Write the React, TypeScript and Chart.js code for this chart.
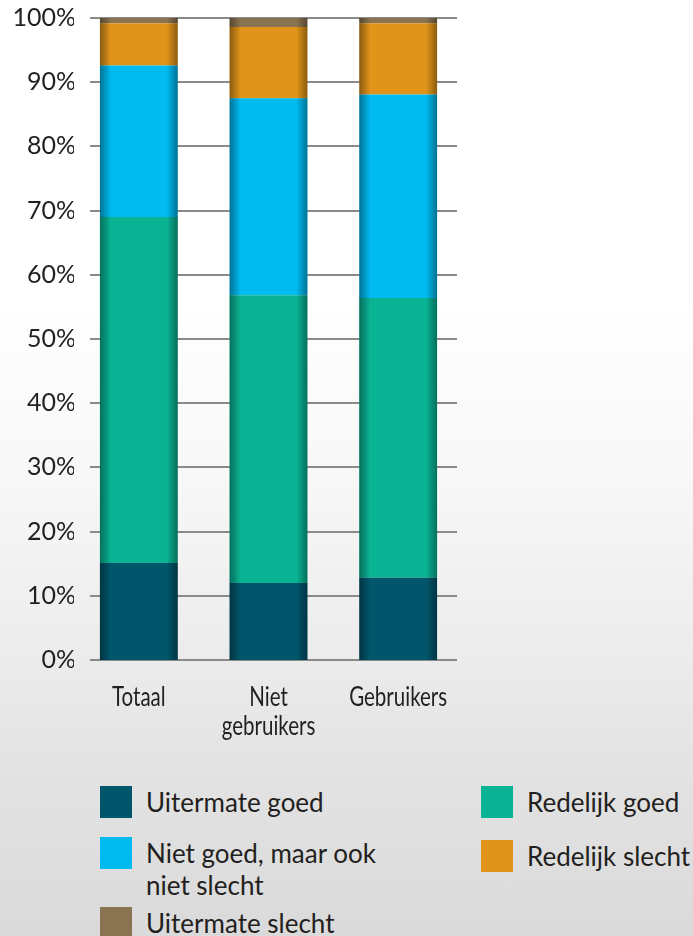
import React, { useEffect, useRef } from "react";
import { Chart, registerables } from "chart.js";

Chart.register(...registerables);

const categories: (string | string[])[] = ["Totaal", ["Niet", "gebruikers"], "Gebruikers"];
const seriesNames = ["Uitermate goed", "Redelijk goed", "Niet goed, maar ook niet slecht", "Redelijk slecht", "Uitermate slecht"];
const uitermateGoed = [15.1, 12.0, 12.8];
const redelijkGoed = [53.9, 44.8, 43.6];
const nietGoedNietSlecht = [23.6, 30.7, 31.7];
const redelijkSlecht = [6.6, 11.1, 11.1];
const uitermateSlecht = [0.8, 1.4, 0.8];
const seriesColors = ["#02566b", "#0ab394", "#00baf0", "#e09419", "#8a7350"];
const yTicks = [0, 10, 20, 30, 40, 50, 60, 70, 80, 90, 100];

const TEXT = "#231f20";

const gridPlugin = {
  id: "customGrid",
  beforeDatasetsDraw(chart: any) {
    const { ctx, chartArea, scales } = chart;
    const y = scales.y;
    ctx.save();
    ctx.strokeStyle = "#8a8a8a";
    ctx.lineWidth = 2;
    y.ticks.forEach((t: any) => {
      const py = Math.round(y.getPixelForValue(t.value));
      ctx.beginPath();
      ctx.moveTo(chartArea.left + 16, py);
      ctx.lineTo(chartArea.right - 6, py);
      ctx.stroke();
    });
    ctx.restore();
  },
};

const shadePlugin = {
  id: "barShade",
  afterDatasetsDraw(chart: any) {
    const { ctx } = chart;
    ctx.save();
    chart.data.datasets.forEach((_: any, di: number) => {
      const meta = chart.getDatasetMeta(di);
      meta.data.forEach((el: any) => {
        const { x, y, base, width } = el.getProps(["x", "y", "base", "width"], true);
        const top = Math.min(y, base);
        const h = Math.abs(base - y);
        const left = x - width / 2;
        const right = x + width / 2;
        const sw = 11;
        let g = ctx.createLinearGradient(left, 0, left + sw, 0);
        g.addColorStop(0, "rgba(0,0,0,0.38)");
        g.addColorStop(1, "rgba(0,0,0,0)");
        ctx.fillStyle = g;
        ctx.fillRect(left, top, sw, h);
        g = ctx.createLinearGradient(right - sw, 0, right, 0);
        g.addColorStop(0, "rgba(0,0,0,0)");
        g.addColorStop(1, "rgba(0,0,0,0.38)");
        ctx.fillStyle = g;
        ctx.fillRect(right - sw, top, sw, h);
      });
    });
    ctx.restore();
  },
};

// Draws the category labels in a condensed style (horizontally compressed Lato)
const condensedLabelsPlugin = {
  id: "condensedLabels",
  afterDraw(chart: any) {
    const { ctx, chartArea, scales } = chart;
    const xs = scales.x;
    ctx.save();
    ctx.fillStyle = TEXT;
    ctx.font = "27px Lato, sans-serif";
    ctx.textAlign = "center";
    ctx.textBaseline = "alphabetic";
    (chart.data.labels as any[]).forEach((lab, i) => {
      const lines = Array.isArray(lab) ? lab : [lab];
      const px = xs.getPixelForTick(i);
      lines.forEach((line: string, j: number) => {
        ctx.save();
        ctx.translate(px, chartArea.bottom + 46 + j * 28.5);
        ctx.scale(0.76, 1);
        ctx.fillText(line, 0, 0);
        ctx.restore();
      });
    });
    ctx.restore();
  },
};

const legendItems = [
  { label: ["Uitermate goed"], color: seriesColors[0], left: 100, top: 786 },
  { label: ["Redelijk goed"], color: seriesColors[1], left: 481, top: 786 },
  { label: ["Niet goed, maar ook", "niet slecht"], color: seriesColors[2], left: 100, top: 837 },
  { label: ["Redelijk slecht"], color: seriesColors[3], left: 481, top: 840 },
  { label: ["Uitermate slecht"], color: seriesColors[4], left: 100, top: 907 },
];

export default function App() {
  const ref = useRef<HTMLCanvasElement | null>(null);

  useEffect(() => {
    if (!ref.current) return;
    const values = [uitermateGoed, redelijkGoed, nietGoedNietSlecht, redelijkSlecht, uitermateSlecht];
    const chart = new Chart(ref.current, {
      type: "bar",
      data: {
        labels: categories as any,
        datasets: values.map((v, i) => ({
          label: seriesNames[i],
          data: v,
          backgroundColor: seriesColors[i],
          borderWidth: 0,
          categoryPercentage: 1,
          barPercentage: 0.6,
        })),
      },
      options: {
        responsive: false,
        animation: false,
        devicePixelRatio: 1,
        layout: { padding: { left: 0, right: 230, top: 18, bottom: 0 } },
        plugins: { legend: { display: false }, tooltip: { enabled: false } },
        scales: {
          x: {
            stacked: true,
            grid: { display: false, drawTicks: false },
            border: { display: false },
            ticks: { display: false },
            afterFit: (s: any) => {
              s.height = 100;
            },
          },
          y: {
            stacked: true,
            min: 0,
            max: 100,
            grid: { display: false, drawTicks: false },
            border: { display: false },
            afterBuildTicks: (s: any) => {
              s.ticks = yTicks.map((v) => ({ value: v }));
            },
            ticks: {
              color: TEXT,
              padding: -2,
              font: { family: "Lato, sans-serif", size: 25 },
              callback: (v: any) => v + "%",
            },
            afterFit: (s: any) => {
              s.width = 74;
            },
          },
        },
      },
      plugins: [gridPlugin, shadePlugin, condensedLabelsPlugin],
    });
    return () => chart.destroy();
  }, []);

  return (
    <div
      style={{
        position: "absolute",
        left: 0,
        top: 0,
        width: 693,
        height: 936,
        overflow: "hidden",
        background:
          "linear-gradient(to bottom, #ffffff 0%, #ffffff 32%, #f7f7f7 52%, #ededed 68%, #e3e3e3 82%, #dadada 100%)",
        fontFamily: "Lato, sans-serif",
      }}
    >
      <canvas ref={ref} width={693} height={760} style={{ position: "absolute", left: 0, top: 0 }} />
      {legendItems.map((it, i) => (
        <div key={i}>
          <div
            style={{
              position: "absolute",
              left: it.left,
              top: it.top,
              width: 32,
              height: 32,
              background: it.color,
            }}
          />
          <div
            style={{
              position: "absolute",
              left: it.left + 46,
              top: it.top,
              fontSize: 26,
              lineHeight: "32.4px",
              color: TEXT,
              whiteSpace: "nowrap",
            }}
          >
            {it.label.map((l, j) => (
              <div key={j}>{l}</div>
            ))}
          </div>
        </div>
      ))}
    </div>
  );
}
